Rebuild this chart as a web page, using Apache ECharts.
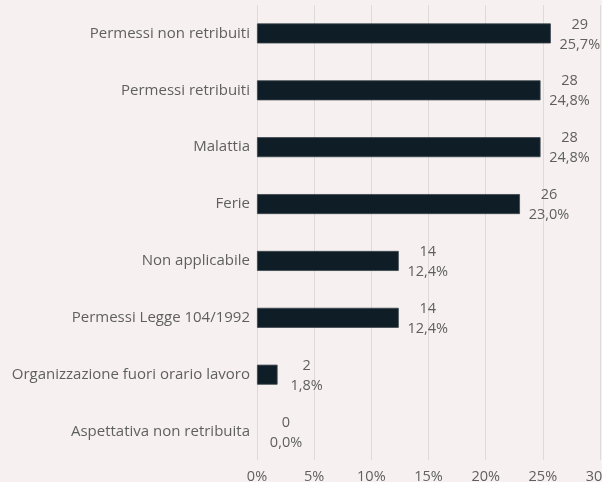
<!DOCTYPE html>
<html>
<head>
<meta charset="utf-8">
<script src="https://cdn.jsdelivr.net/npm/echarts@6/dist/echarts.min.js"></script>
<style>
html,body{margin:0;padding:0;background:#f6f1f0;}
#c{width:602px;height:482px;}
</style>
</head>
<body>
<div id="c"></div>
<script>
const categories = [
  "Permessi non retribuiti",
  "Permessi retribuiti",
  "Malattia",
  "Ferie",
  "Non applicabile",
  "Permessi Legge 104/1992",
  "Organizzazione fuori orario lavoro",
  "Aspettativa non retribuita"
];
const counts = [29, 28, 28, 26, 14, 14, 2, 0];
const percents = [25.7, 24.8, 24.8, 23.0, 12.4, 12.4, 1.8, 0.0];
const xTicks = [0, 5, 10, 15, 20, 25, 30];

const font = "'Open Sans', sans-serif";
const textColor = "#5f5f5f";

const chart = echarts.init(document.getElementById('c'));
chart.setOption({
  backgroundColor: '#f6f1f0',
  animation: false,
  grid: { left: 257, right: 2, top: 5, bottom: 22, containLabel: false, outerBoundsMode: 'none' },
  xAxis: {
    type: 'value',
    min: xTicks[0],
    max: xTicks[xTicks.length - 1],
    interval: 5,
    axisLine: { show: false },
    axisTick: { show: false },
    splitLine: { show: true, lineStyle: { color: '#dedad9', width: 1 } },
    axisLabel: {
      color: textColor, fontFamily: font, fontSize: 14.5, margin: 9,
      hideOverlap: false,
      formatter: v => v + '%'
    }
  },
  yAxis: {
    type: 'category',
    inverse: true,
    data: categories,
    axisLine: { show: false },
    axisTick: { show: false },
    splitLine: { show: false },
    axisLabel: { color: textColor, fontFamily: font, fontSize: 15, margin: 7 }
  },
  series: [{
    type: 'bar',
    data: percents.map(v => ({ value: v, itemStyle: { borderWidth: v > 0 ? 0.8 : 0 } })),
    barWidth: 20,
    itemStyle: { color: '#0f1d26', borderColor: '#3b454d', borderWidth: 0.8 },
    label: {
      show: true,
      position: 'right',
      distance: 5,
      offset: [0, 1],
      formatter: p => '{a|' + counts[p.dataIndex] + '}\n{a|' + p.value.toFixed(1).replace('.', ',') + '%}',
      rich: {
        a: { width: 48, align: 'center', color: textColor, fontFamily: font, fontSize: 14.5, lineHeight: 20 }
      }
    }
  }]
});
</script>
</body>
</html>
